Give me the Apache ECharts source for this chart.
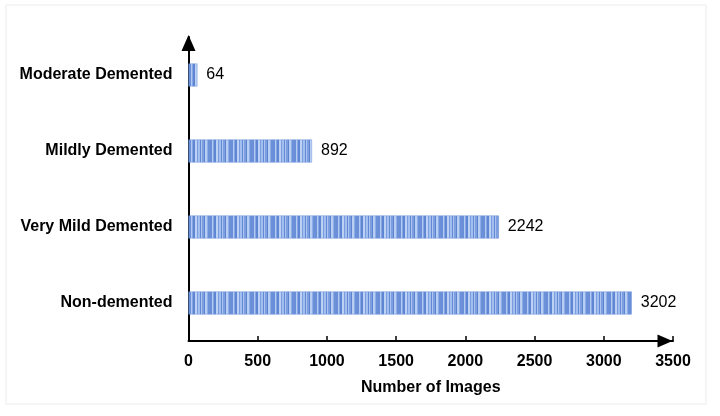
<!DOCTYPE html>
<html>
<head>
<meta charset="utf-8">
<script src="https://cdn.jsdelivr.net/npm/echarts@6/dist/echarts.min.js"></script>
<style>html,body{margin:0;padding:0;background:#fff;}#c{width:720px;height:416px;}</style>
</head>
<body>
<div id="c"></div>
<script>
var categories = ["Non-demented", "Very Mild Demented", "Mildly Demented", "Moderate Demented"];
var values = [3202, 2242, 892, 64];
var xTicks = [0, 500, 1000, 1500, 2000, 2500, 3000, 3500];

// stripe pattern for bar fill
var pc = document.createElement('canvas');
var stripes = [['#6a8fd8',2],['#b3cbf3',1],['#86a7e4',1],['#5f86d2',2],['#bcd1f4',2],['#7a9de0',1],['#a3bff0',2],['#6389d4',1],['#adc6f1',1],['#7d9fe0',2],['#5d84d0',1],['#b8cef3',2],['#8eaee7',1],['#6b90d8',2]];
var tw = 0; stripes.forEach(function (s) { tw += s[1]; });
pc.width = tw; pc.height = 4;
var ctx = pc.getContext('2d');
var xx = 0;
stripes.forEach(function (s) { ctx.fillStyle = s[0]; ctx.fillRect(xx, 0, s[1], 4); xx += s[1]; });

var chart = echarts.init(document.getElementById('c'), null, {renderer: 'canvas'});
var FONT = 'Liberation Sans';
chart.setOption({
  animation: false,
  backgroundColor: '#fff',
  graphic: [{
    type: 'rect', shape: {x: 6, y: 5, width: 700, height: 399},
    style: {fill: 'none', stroke: '#ececec', lineWidth: 1}, silent: true, z: -1
  }],
  grid: {left: 188.5, right: 47, top: 37, bottom: 75, containLabel: false},
  xAxis: {
    type: 'value', min: 0, max: 3500, interval: 500,
    name: 'Number of Images', nameLocation: 'middle', nameGap: 39,
    nameTextStyle: {fontFamily: FONT, fontWeight: 'bold', fontSize: 16, color: '#000'},
    axisLine: {show: true, lineStyle: {color: '#000', width: 2}, symbol: ['none', 'triangle'], symbolSize: [13, 15], symbolOffset: [0, -8]},
    axisTick: {show: true, inside: true, length: 5, lineStyle: {color: '#000', width: 1.5}},
    axisLabel: {fontFamily: FONT, fontWeight: 'bold', fontSize: 16, color: '#000', margin: 13,
      formatter: function (v) { return xTicks.indexOf(v) >= 0 ? String(v) : ''; }},
    splitLine: {show: false}
  },
  yAxis: {
    type: 'category', data: categories,
    axisLine: {show: true, lineStyle: {color: '#000', width: 2}, symbol: ['none', 'triangle'], symbolSize: [14, 16], symbolOffset: [0, -6]},
    axisTick: {show: true, inside: true, alignWithLabel: true, length: 4, lineStyle: {color: '#000', width: 1.5}},
    axisLabel: {fontFamily: FONT, fontWeight: 'bold', fontSize: 16, color: '#000', margin: 16}
  },
  series: [{
    type: 'bar', data: values, barWidth: 23,
    itemStyle: {color: {image: pc, repeat: 'repeat'}, borderColor: '#7396da', borderWidth: 0.5},
    label: {show: true, position: 'right', distance: 9, fontFamily: FONT, fontSize: 16, color: '#000'}
  }]
});
</script>
</body>
</html>
